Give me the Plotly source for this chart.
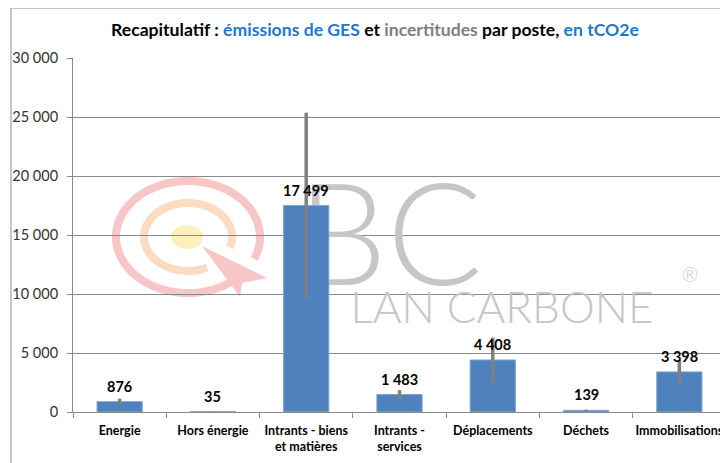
import numpy as np
import plotly.graph_objects as go

# ---- data ----
categories = ["Energie", "Hors énergie", "Intrants - biens et matières",
              "Intrants - services", "Déplacements", "Déchets", "Immobilisations"]
tick_labels = ["Energie", "Hors énergie", "Intrants - biens<br>et matières",
               "Intrants -<br>services", "Déplacements", "Déchets", "Immobilisations"]
emissions = [876, 35, 17499, 1483, 4408, 139, 3398]
uncertainty = [250, 10, 7870, 370, 1900, 60, 1000]
y_ticks = [0, 5000, 10000, 15000, 20000, 25000, 30000]

FONT = "Lato"
BAR = "#4F81BD"
GRID = "#8A8A8A"

# page has an 8px body margin: figure is 720x455, drawn from (8, 8)
W, H = 720, 455

fig = go.Figure()

# ---- watermark (base subplot, pixel-like coordinates) ----
def arc_path(cx, cy, rx, ry, a0, a1, n=80):
    a = np.radians(np.linspace(a0, a1, n))
    xs = cx + rx * np.cos(a)
    ys = cy + ry * np.sin(a)
    return "M " + " L ".join(f"{x:.1f},{y:.1f}" for x, y in zip(xs, ys))

shapes = []
pink = "#F7C6C6"
orange = "#FBDCC2"
yellow = "#FDEFBE"
shapes.append(dict(type="path", xref="x", yref="y", layer="below",
                   path=arc_path(188, 237, 72, 56, 50, 383),
                   line=dict(color=pink, width=8)))
shapes.append(dict(type="path", xref="x", yref="y", layer="below",
                   path=arc_path(188, 237, 44, 34, 64, 378),
                   line=dict(color=orange, width=8)))
shapes.append(dict(type="circle", xref="x", yref="y", layer="below",
                   x0=171, x1=203, y0=225, y1=249,
                   fillcolor=yellow, line=dict(width=0)))
shapes.append(dict(type="path", xref="x", yref="y", layer="below",
                   path="M 202,246 L 267,278 L 242,283 L 240,297 Z",
                   fillcolor=pink, line=dict(width=0)))

# outer chart frame
shapes.append(dict(type="rect", xref="paper", yref="paper",
                   x0=(11 - 73) / 653, x1=1.5, y0=-0.5, y1=(412 - 8) / 354,
                   line=dict(color="#8C8C8C", width=1), fillcolor="rgba(0,0,0,0)"))

fig.add_trace(go.Scatter(
    x=[390, 502, 690], y=[249, 312, 277],
    mode="text", text=["BC", "LAN CARBONE", "®"],
    textfont=dict(family="Lato", size=[142, 44, 20], color="#C6C6C6", weight=300),
    hoverinfo="skip", showlegend=False, xaxis="x", yaxis="y", cliponaxis=False))

# ---- bars ----
fig.add_trace(go.Bar(
    x=categories, y=emissions, xaxis="x2", yaxis="y2",
    width=0.485,
    marker=dict(color=BAR, line=dict(color="#7FA4D4", width=1)),
    error_y=dict(type="data", array=uncertainty, visible=True,
                 color="#808080", thickness=3.5, width=0),
    showlegend=False, hoverinfo="x+y"))

# data labels
annotations = []
for c, v in zip(categories, emissions):
    annotations.append(dict(
        x=c, y=v, xref="x2", yref="y2", showarrow=False,
        text=f"{v:,}".replace(",", " "), yanchor="bottom", yshift=5,
        font=dict(family=FONT, size=14.5, color="#000000", weight="bold")))

title_html = ("<b>Recapitulatif : <span style='color:#1F78C8'>émissions de GES</span> et "
              "<span style='color:#7F7F7F'>incertitudes</span> par poste, "
              "<span style='color:#1F78C8'>en tCO2e</span></b>")

fig.update_layout(
    width=W, height=H,
    margin=dict(l=65, r=2, t=50, b=51, autoexpand=False),
    paper_bgcolor="white", plot_bgcolor="white",
    separators=", ",
    font=dict(family=FONT, color="#333333"),
    title=dict(text=title_html, x=367 / W, xanchor="center", xref="container",
               y=1 - 22 / H, yanchor="middle", yref="container",
               font=dict(family=FONT, size=17.6, color="#000000")),
    showlegend=False,
    shapes=shapes,
    annotations=annotations,
    xaxis=dict(range=[73, 726], visible=False, fixedrange=True),
    yaxis=dict(range=[412, 58], visible=False, fixedrange=True),
    xaxis2=dict(overlaying="x", anchor="y2", type="category",
                tickmode="array", tickvals=categories, ticktext=tick_labels,
                range=[-0.5, 6.5], showline=True, linecolor=GRID, linewidth=1,
                ticks="outside", tickson="boundaries", ticklen=5, tickcolor=GRID,
                showgrid=False, tickangle=0, automargin=False, ticklabelstandoff=7,
                tickfont=dict(family=FONT, size=12.5, color="#000000", weight="bold")),
    yaxis2=dict(overlaying="y", anchor="x2", range=[0, 30000],
                tickmode="array", tickvals=y_ticks, tickformat=",d",
                showgrid=True, gridcolor=GRID, gridwidth=1,
                showline=True, linecolor=GRID, linewidth=1,
                ticks="outside", ticklen=5, tickcolor=GRID,
                zeroline=False, automargin=False, ticklabelstandoff=6,
                tickfont=dict(family=FONT, size=14.5, color="#333333")),
)

fig.write_html("out.html")
